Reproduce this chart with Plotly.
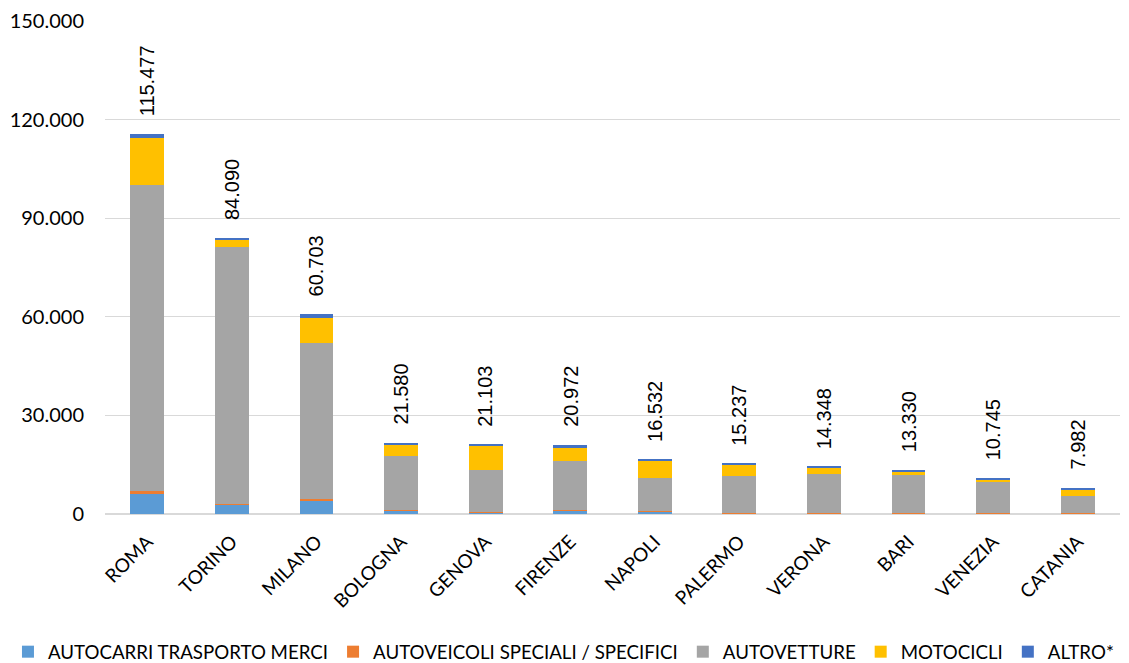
import plotly.graph_objects as go

cities = ["ROMA", "TORINO", "MILANO", "BOLOGNA", "GENOVA", "FIRENZE", "NAPOLI",
          "PALERMO", "VERONA", "BARI", "VENEZIA", "CATANIA"]
totals = [115477, 84090, 60703, 21580, 21103, 20972, 16532, 15237, 14348, 13330, 10745, 7982]
autocarri = [6000, 2850, 3850, 1000, 400, 1100, 700, 100, 300, 100, 50, 100]
speciali = [1000, 300, 800, 300, 200, 200, 100, 300, 100, 300, 150, 100]
autovetture = [93100, 78210, 47353, 16230, 12803, 14822, 10032, 11137, 11798, 11380, 9695, 5352]
motocicli = [14200, 2230, 7700, 3750, 7300, 4250, 5300, 3400, 1950, 1150, 550, 1830]
altro = [1177, 500, 1000, 300, 400, 600, 400, 300, 200, 400, 300, 600]

series = [
    ("AUTOCARRI TRASPORTO MERCI", autocarri, "#5B9BD5"),
    ("AUTOVEICOLI SPECIALI / SPECIFICI", speciali, "#ED7D31"),
    ("AUTOVETTURE", autovetture, "#A5A5A5"),
    ("MOTOCICLI", motocicli, "#FFC000"),
    ("ALTRO*", altro, "#4472C4"),
]

font_main = "Lato, Calibri, Carlito, sans-serif"

fig = go.Figure()
for name, vals, col in series:
    fig.add_trace(go.Bar(x=cities, y=vals, name=name, marker=dict(color=col, line=dict(width=0))))

for c, t in zip(cities, totals):
    fig.add_annotation(x=c, y=t, text=f"{t:,}".replace(",", "."), textangle=-90,
                       showarrow=False, yanchor="bottom", yshift=16,
                       font=dict(family="Liberation Sans, Arial, sans-serif", size=20, color="#000000"))

fig.update_layout(
    barmode="stack",
    bargap=0.6,
    width=1121, height=655,
    margin=dict(l=97, r=9, t=13, b=149, autoexpand=False),
    plot_bgcolor="white", paper_bgcolor="white",
    font=dict(family=font_main, size=17, color="#000000"),
    showlegend=True,
    legend=dict(orientation="h", x=-0.0956, xanchor="left", y=-0.3185, yanchor="bottom",
                font=dict(size=18.7), traceorder="normal", itemwidth=30,
                bgcolor="rgba(0,0,0,0)"),
    xaxis=dict(tickangle=-45, showgrid=False, showline=False, ticks="",
               tickfont=dict(size=19), ticklabelstandoff=12, automargin=False),
    yaxis=dict(range=[0, 150000], tickvals=[0, 30000, 60000, 90000, 120000, 150000],
               ticktext=["0", "30.000", "60.000", "90.000", "120.000", "150.000"],
               showgrid=True, gridcolor="#D9D9D9", gridwidth=1, zeroline=True,
               zerolinecolor="#D9D9D9", zerolinewidth=1.5, ticks="", ticklen=0,
               tickfont=dict(size=20), ticklabelstandoff=20, automargin=False),
)
fig.write_html("out.html")
